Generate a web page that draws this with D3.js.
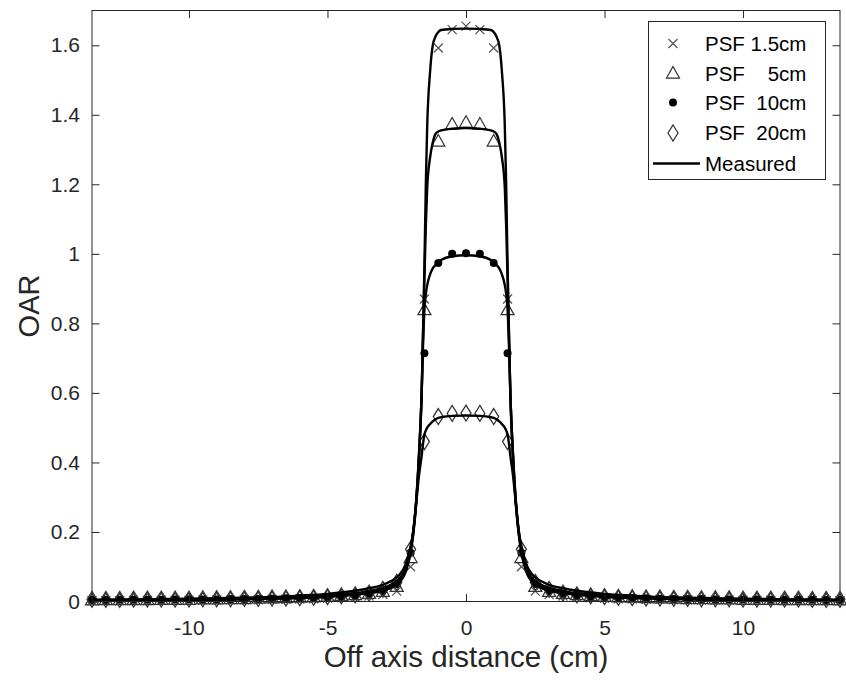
<!DOCTYPE html>
<html><head><meta charset="utf-8">
<script src="https://cdn.jsdelivr.net/npm/d3@7/dist/d3.min.js"></script>
<style>
body{margin:0;background:#fff;}
svg text{font-family:"Liberation Sans",Arial,Helvetica,sans-serif;}
</style></head>
<body><svg id="chart" width="846" height="684"></svg>
<script>
// ---------- data ----------
const xTicks = [-10, -5, 0, 5, 10];
const xTickLabels = ["-10", "-5", "0", "5", "10"];
const yTicks = [0, 0.2, 0.4, 0.6, 0.8, 1, 1.2, 1.4, 1.6];
const yTickLabels = ["0", "0.2", "0.4", "0.6", "0.8", "1", "1.2", "1.4", "1.6"];

const legendLabels = ["PSF 1.5cm", "PSF    5cm", "PSF  10cm", "PSF  20cm", "Measured"];

// PSF calculated points
const psfX = [-13.5,-13,-12.5,-12,-11.5,-11,-10.5,-10,-9.5,-9,-8.5,-8,-7.5,-7,-6.5,-6,-5.5,-5,-4.5,-4,-3.5,-3,-2.5,-2,-1.5,-1,-0.5,
  0,0.5,1,1.5,2,2.5,3,3.5,4,4.5,5,5.5,6,6.5,7,7.5,8,8.5,9,9.5,10,10.5,11,11.5,12,12.5,13,13.5];
const psf15 = [0.002,0.002,0.002,0.003,0.003,0.003,0.003,0.003,0.004,0.004,0.004,0.005,0.005,0.006,0.006,0.007,0.008,0.009,0.011,0.013,0.016,0.02,0.03,0.10,0.87,1.592,1.645,
  1.655,1.645,1.592,0.87,0.10,0.03,0.02,0.016,0.013,0.011,0.009,0.008,0.007,0.006,0.006,0.005,0.005,0.004,0.004,0.004,0.003,0.003,0.003,0.003,0.003,0.002,0.002,0.002];
const psf5 = [0.003,0.004,0.004,0.004,0.004,0.005,0.005,0.005,0.006,0.006,0.007,0.007,0.008,0.009,0.01,0.011,0.012,0.014,0.016,0.018,0.022,0.028,0.042,0.125,0.838,1.323,1.372,
  1.377,1.372,1.323,0.838,0.125,0.042,0.028,0.022,0.018,0.016,0.014,0.012,0.011,0.01,0.009,0.008,0.007,0.007,0.006,0.006,0.005,0.005,0.005,0.004,0.004,0.004,0.004,0.003];
const psf10 = [0.004,0.004,0.005,0.005,0.005,0.005,0.006,0.006,0.006,0.006,0.007,0.007,0.007,0.008,0.009,0.01,0.011,0.013,0.015,0.018,0.022,0.03,0.05,0.14,0.714,0.974,1.0,
  1.002,1.0,0.974,0.714,0.14,0.05,0.03,0.022,0.018,0.015,0.013,0.011,0.01,0.009,0.008,0.007,0.007,0.007,0.006,0.006,0.006,0.006,0.005,0.005,0.005,0.005,0.004,0.004];
const psf20 = [0.006,0.006,0.006,0.007,0.007,0.007,0.007,0.007,0.008,0.008,0.008,0.009,0.009,0.01,0.01,0.011,0.012,0.014,0.016,0.019,0.024,0.035,0.055,0.15,0.46,0.532,0.541,
  0.542,0.541,0.532,0.46,0.15,0.055,0.035,0.024,0.019,0.016,0.014,0.012,0.011,0.01,0.01,0.009,0.009,0.008,0.008,0.008,0.007,0.007,0.007,0.007,0.007,0.006,0.006,0.006];

// Measured profiles
const measX = [-13.5,-12,-10,-8,-7,-6,-5,-4,-3.5,-3,-2.8,-2.6,-2.4,-2.2,-2.1,-2,-1.9,-1.8,-1.7,-1.6,-1.55,-1.5,-1.45,-1.4,-1.3,-1.2,-1.1,-1,-0.9,-0.5,
  0,0.5,0.9,1,1.1,1.2,1.3,1.4,1.45,1.5,1.55,1.6,1.7,1.8,1.9,2,2.1,2.2,2.4,2.6,2.8,3,3.5,4,5,6,7,8,10,12,13.5];
const meas15 = [0.003,0.003,0.004,0.006,0.008,0.01,0.013,0.019,0.024,0.031,0.036,0.043,0.055,0.08,0.105,0.14,0.195,0.28,0.41,0.6,0.78,0.97,1.2,1.37,1.52,1.6,1.625,1.638,1.644,1.647,
  1.648,1.647,1.644,1.638,1.625,1.6,1.52,1.37,1.2,0.97,0.78,0.6,0.41,0.28,0.195,0.14,0.105,0.08,0.055,0.043,0.036,0.031,0.024,0.019,0.013,0.01,0.008,0.006,0.004,0.003,0.003];
const meas5 = [0.003,0.004,0.005,0.007,0.009,0.011,0.015,0.022,0.027,0.035,0.04,0.048,0.06,0.086,0.11,0.145,0.2,0.285,0.415,0.6,0.77,0.93,1.08,1.19,1.275,1.32,1.345,1.352,1.355,1.36,
  1.362,1.36,1.355,1.352,1.345,1.32,1.275,1.19,1.08,0.93,0.77,0.6,0.415,0.285,0.2,0.145,0.11,0.086,0.06,0.048,0.04,0.035,0.027,0.022,0.015,0.011,0.009,0.007,0.005,0.004,0.003];
const meas10 = [0.004,0.005,0.006,0.008,0.01,0.013,0.017,0.024,0.03,0.039,0.045,0.053,0.066,0.092,0.115,0.15,0.205,0.29,0.42,0.6,0.74,0.84,0.885,0.91,0.94,0.958,0.968,0.976,0.982,0.993,
  0.996,0.993,0.982,0.976,0.968,0.958,0.94,0.91,0.885,0.84,0.74,0.6,0.42,0.29,0.205,0.15,0.115,0.092,0.066,0.053,0.045,0.039,0.03,0.024,0.017,0.013,0.01,0.008,0.006,0.005,0.004];
const meas20 = [0.005,0.006,0.008,0.011,0.013,0.017,0.022,0.031,0.038,0.048,0.055,0.063,0.077,0.103,0.128,0.16,0.205,0.28,0.36,0.42,0.455,0.48,0.492,0.5,0.51,0.518,0.524,0.528,0.53,0.534,
  0.535,0.534,0.53,0.528,0.524,0.518,0.51,0.5,0.492,0.48,0.455,0.42,0.36,0.28,0.205,0.16,0.128,0.103,0.077,0.063,0.055,0.048,0.038,0.031,0.022,0.017,0.013,0.011,0.008,0.006,0.005];

// ---------- layout ----------
const L = 92, R = 840, T = 10.5, B = 601.5;
const axisColor = "#262626";
const svg = d3.select("#chart");
const x = d3.scaleLinear().domain([-13.5, 13.5]).range([L, R]);
const y = d3.scaleLinear().domain([0, 1.7]).range([B, T]);
const tickLen = 7.5;

// marker shapes
const markerPaths = {
  x: "M-4.5,-4.5L4.5,4.5M-4.5,4.5L4.5,-4.5",
  tri: "M0,-7L6.5,4.5L-6.5,4.5Z",
  dot: null,
  dia: "M0,-8L5,0L0,8L-5,0Z"
};
function drawMarker(g, type, cx, cy) {
  if (type === "dot") {
    g.append("circle").attr("cx", cx).attr("cy", cy).attr("r", 4).attr("fill", "#000");
  } else {
    g.append("path").attr("d", markerPaths[type])
      .attr("transform", `translate(${cx},${cy})`)
      .attr("fill", "none").attr("stroke", type === "x" ? "#555" : "#333").attr("stroke-width", 1.25);
  }
}

// PSF markers
const psfSeries = [[psf15, "x"], [psf5, "tri"], [psf10, "dot"], [psf20, "dia"]];
const gm = svg.append("g");
psfSeries.forEach(([vals, type]) => {
  psfX.forEach((xv, i) => drawMarker(gm, type, x(xv), y(vals[i])));
});

// measured lines
svg.append("clipPath").attr("id", "clip").append("rect")
  .attr("x", L).attr("y", T).attr("width", R - L).attr("height", B - T);
const line = d3.line().x((d) => x(d[0])).y((d) => y(d[1])).curve(d3.curveMonotoneX);
[meas15, meas5, meas10, meas20].forEach((vals) => {
  svg.append("path").attr("clip-path", "url(#clip)")
    .attr("d", line(measX.map((xv, i) => [xv, vals[i]])))
    .attr("fill", "none").attr("stroke", "#000").attr("stroke-width", 2.4)
    .attr("stroke-linejoin", "round");
});

// axes box
const ga = svg.append("g").attr("stroke", axisColor).attr("stroke-width", 1).attr("fill", "none");
ga.append("rect").attr("x", L).attr("y", T).attr("width", R - L).attr("height", B - T);

// x axis (bottom), with ticks inward
const xAxis = d3.axisBottom(x).tickValues(xTicks).tickSize(-tickLen).tickPadding(12)
  .tickFormat((d, i) => xTickLabels[i]);
const gx = svg.append("g").attr("transform", `translate(0,${B})`).call(xAxis);
const yAxis = d3.axisLeft(y).tickValues(yTicks).tickSize(-tickLen).tickPadding(12)
  .tickFormat((d, i) => yTickLabels[i]);
const gy = svg.append("g").attr("transform", `translate(${L},0)`).call(yAxis);
[gx, gy].forEach((g) => {
  g.select(".domain").remove();
  g.selectAll("line").attr("stroke", axisColor);
  g.selectAll("text").attr("fill", axisColor).style("font-size", "21px")
    .style("font-family", "'Liberation Sans',Arial,sans-serif");
});
gx.selectAll("text").attr("dy", "0.75em").attr("y", 18);
// top and right ticks
const gxt = svg.append("g").attr("transform", `translate(0,${T})`)
  .call(d3.axisTop(x).tickValues(xTicks).tickSize(-tickLen).tickFormat(""));
const gyr = svg.append("g").attr("transform", `translate(${R},0)`)
  .call(d3.axisRight(y).tickValues(yTicks).tickSize(-tickLen).tickFormat(""));
[gxt, gyr].forEach((g) => { g.select(".domain").remove(); g.selectAll("line").attr("stroke", axisColor); });

// axis labels
svg.append("text").attr("x", (L + R) / 2).attr("y", 667).attr("text-anchor", "middle")
  .attr("fill", axisColor).style("font-size", "29.5px").text("Off axis distance (cm)");
svg.append("text").attr("transform", `translate(39,${(T + B) / 2}) rotate(-90)`)
  .attr("text-anchor", "middle").attr("fill", axisColor).style("font-size", "29px").text("OAR");

// legend
const lg = svg.append("g");
lg.append("rect").attr("x", 648.5).attr("y", 21.5).attr("width", 177).attr("height", 158)
  .attr("fill", "#fff").attr("stroke", axisColor).attr("stroke-width", 1);
const rowY = [43.5, 73.5, 102.5, 133, 163.5];
const legTypes = ["x", "tri", "dot", "dia"];
legTypes.forEach((t, i) => drawMarker(lg, t, 673, rowY[i]));
lg.append("line").attr("x1", 653).attr("x2", 700).attr("y1", rowY[4]).attr("y2", rowY[4])
  .attr("stroke", "#000").attr("stroke-width", 2.4);
legendLabels.forEach((s, i) => {
  lg.append("text").attr("x", 705).attr("y", rowY[i]).attr("dy", "0.35em")
    .attr("fill", "#000").style("font-size", "20.5px").style("white-space", "pre").text(s);
});
</script></body></html>
